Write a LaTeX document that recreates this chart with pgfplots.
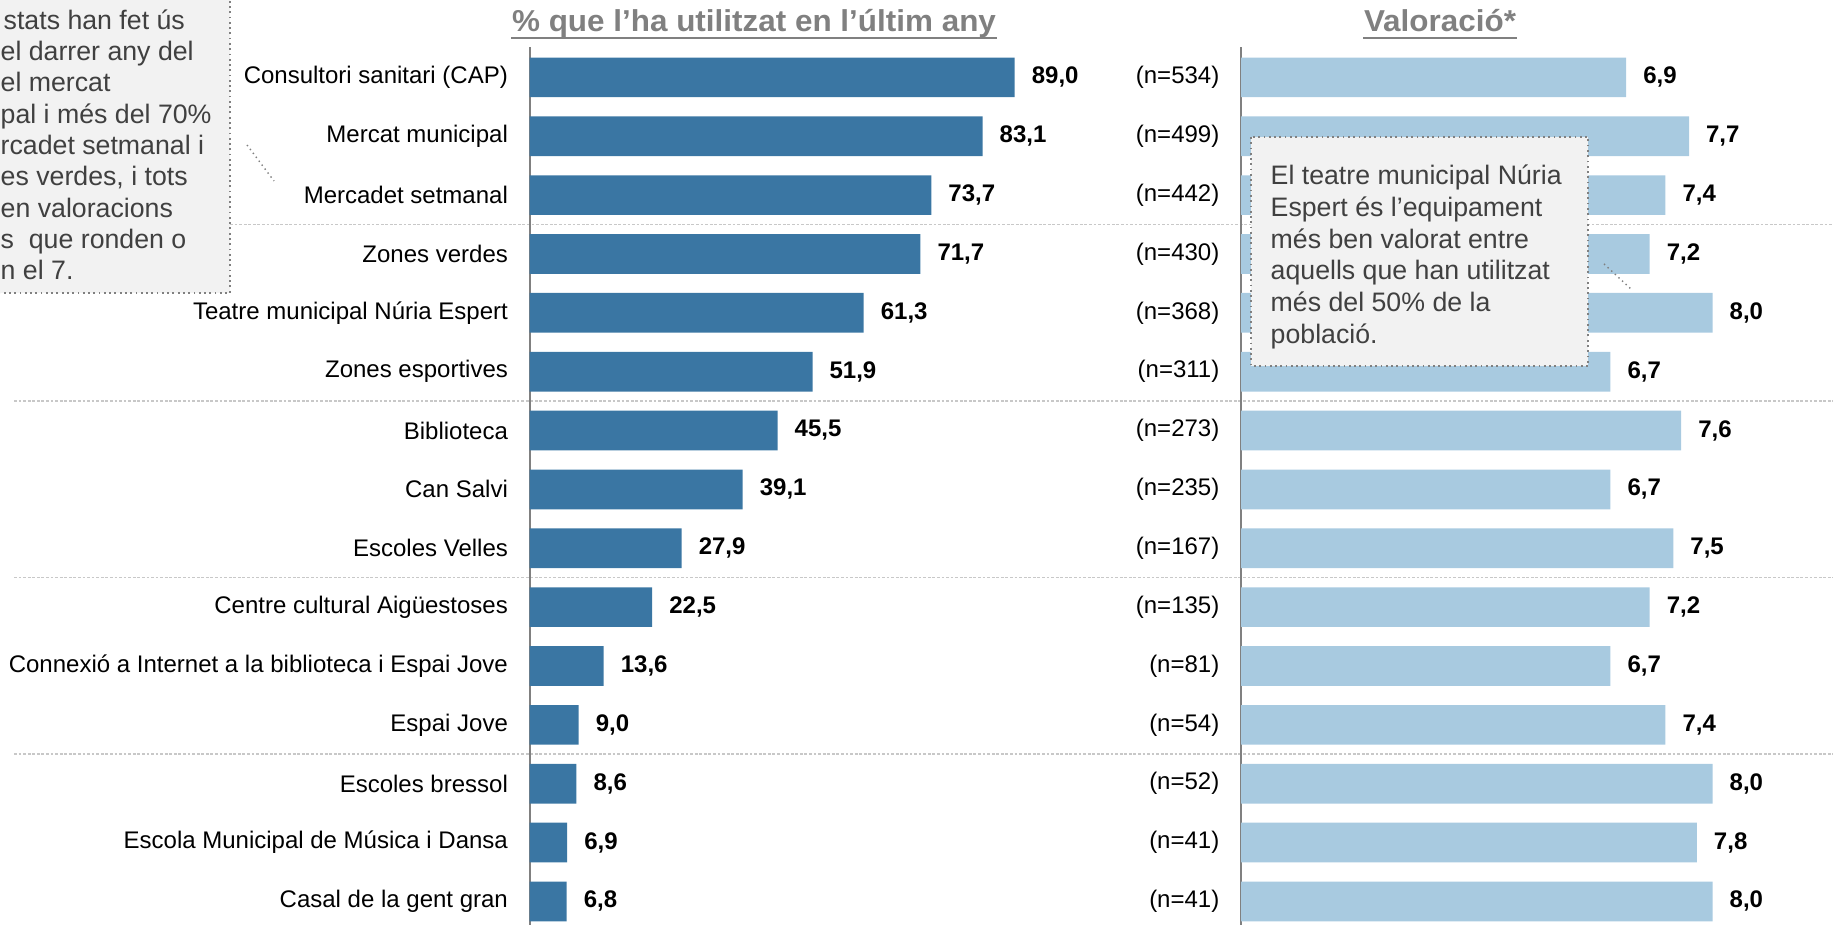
\documentclass[border=0pt]{standalone}
\usepackage{pgfplots}
\usepackage{pgfplotstable}
\pgfplotsset{compat=1.18}
\usepackage{fontspec}
\setmainfont{Liberation Sans}
\newfontfamily\titlefam[FakeStretch=1.04]{Liberation Sans}

\definecolor{barDark}{RGB}{58,118,163}
\definecolor{barLight}{RGB}{168,202,224}
\definecolor{boxFill}{RGB}{242,242,242}
\definecolor{boxText}{RGB}{64,64,64}
\definecolor{titleGray}{RGB}{128,128,128}
\definecolor{sepGray}{RGB}{200,200,200}
\definecolor{axGray}{RGB}{128,128,128}

\newcommand\labelfont{\fontsize{6.83pt}{8pt}\selectfont}
\newcommand\boxfont{\fontsize{7.6pt}{9pt}\selectfont}
\newcommand\titlefont{\titlefam\fontsize{8.6pt}{10pt}\selectfont\bfseries}

% row, % used in the last year, rating, sample size
\pgfplotstableread{
row use val n
0  89.0 6.9 534
1  83.1 7.7 499
2  73.7 7.4 442
3  71.7 7.2 430
4  61.3 8.0 368
5  51.9 6.7 311
6  45.5 7.6 273
7  39.1 6.7 235
8  27.9 7.5 167
9  22.5 7.2 135
10 13.6 6.7 81
11 9.0  7.4 54
12 8.6  8.0 52
13 6.9  7.8 41
14 6.8  8.0 41
}\data

\pgfplotsset{panel/.style={
    xbar, scale only axis, height=8.778cm,
    y dir=reverse, ymin=-0.513, ymax=14.40,
    axis x line=none, axis y line*=left,
    axis line style={draw=axGray, line width=0.6pt},
    ytick={0,...,14}, major tick length=0pt, ytick style={draw=none},
    yticklabel style={anchor=east, inner sep=0pt, xshift=-0.21cm, font=\labelfont, text=black},
    bar width=0.397cm, point meta=x,
    nodes near coords={\bfseries\pgfmathprintnumber[fixed,fixed zerofill,precision=1,use comma,assume math mode=true]{\pgfplotspointmeta}},
    nodes near coords style={anchor=west, inner sep=0pt, xshift=0.164cm, font=\labelfont, text=black},
}}

\begin{document}
\begin{tikzpicture}[x=1cm,y=1cm]
\useasboundingbox (0,0) rectangle (18.33,9.25);
\begin{scope}
\clip (0,0) rectangle (18.33,9.25);

% group separators
\foreach \yy/\xs in {7.006/2.30, 5.24/0.14, 3.475/0.14, 1.709/0.14}
  \draw[sepGray, line width=0.35pt, dash pattern=on 0.8pt off 0.5pt] (\xs,\yy) -- (18.4,\yy);

% left panel: % que l'ha utilitzat
\begin{axis}[panel, at={(5.296cm,0cm)}, anchor=south west,
    width=5.451cm, xmin=0, xmax=100, clip=false,
    yticklabels={Consultori sanitari (CAP), Mercat municipal, Mercadet setmanal,
      Zones verdes, Teatre municipal Núria Espert, Zones esportives, Biblioteca,
      Can Salvi, Escoles Velles, Centre cultural Aigüestoses,
      Connexió a Internet a la biblioteca i Espai Jove, Espai Jove,
      Escoles bressol, Escola Municipal de Música i Dansa, Casal de la gent gran}]
  \addplot[fill=barDark, draw=none] table[x=use, y=row] {\data};
\end{axis}

% right panel: valoracio
\begin{axis}[panel, at={(12.41cm,0cm)}, anchor=south west,
    width=5.895cm, xmin=2, xmax=9.5,
    yticklabels={(n=534), (n=499), (n=442), (n=430), (n=368), (n=311), (n=273),
      (n=235), (n=167), (n=135), (n=81), (n=54), (n=52), (n=41), (n=41)}]
  \addplot[fill=barLight, draw=none] table[x=val, y=row] {\data};
\end{axis}

% titles
\node[anchor=base, inner sep=0pt, text=titleGray, font=\titlefont] (t1) at (7.54,8.93) {\% que l’ha utilitzat en l’últim any};
\draw[titleGray, line width=0.8pt] ([yshift=-0.06cm]t1.base west) -- ([yshift=-0.06cm]t1.base east);
\node[anchor=base, inner sep=0pt, text=titleGray, font=\titlefont] (t2) at (14.40,8.93) {Valoració*};
\draw[titleGray, line width=0.8pt] ([yshift=-0.06cm]t2.base west) -- ([yshift=-0.06cm]t2.base east);

% left comment box (cut at the picture edge)
\fill[boxFill] (-0.2,9.4) rectangle (2.30,6.32);
\draw[axGray, line width=0.5pt, densely dotted] (2.30,9.4) -- (2.30,6.32) -- (-0.2,6.32);
\draw[axGray, line width=0.4pt, densely dotted] (2.47,7.80) -- (2.74,7.44);
\begin{scope}[every node/.style={anchor=base west, inner sep=0pt, text=boxText, font=\boxfont}]
\node at (0.03,8.957) {stats han fet ús};
\node at (0,8.644) {el darrer any del};
\node at (0,8.331) {el mercat};
\node at (0,8.018) {pal i més del 70\%};
\node at (0,7.705) {rcadet setmanal i};
\node at (0,7.392) {es verdes, i tots};
\node at (0,7.079) {en valoracions};
\node at (0,6.766) {s\ \ que ronden o};
\node at (0,6.453) {n el 7.};
\end{scope}

% right comment box
\fill[boxFill] (12.51,7.88) rectangle (15.88,5.59);
\draw[axGray, line width=0.5pt, densely dotted] (12.51,7.88) rectangle (15.88,5.59);
\draw[axGray, line width=0.4pt, densely dotted] (16.04,6.61) -- (16.32,6.35);
\begin{scope}[every node/.style={anchor=base west, inner sep=0pt, text=boxText, font=\boxfont}]
\node at (12.70,7.405) {El teatre municipal Núria};
\node at (12.70,7.087) {Espert és l’equipament};
\node at (12.70,6.769) {més ben valorat entre};
\node at (12.70,6.451) {aquells que han utilitzat};
\node at (12.70,6.133) {més del 50\% de la};
\node at (12.70,5.815) {població.};
\end{scope}
\end{scope}
\end{tikzpicture}
\end{document}
